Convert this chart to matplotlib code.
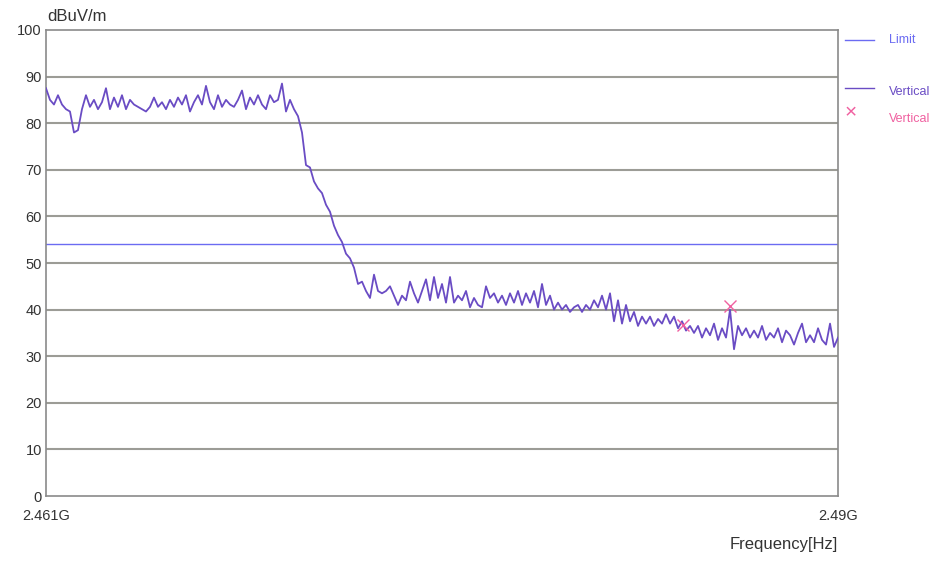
import matplotlib.pyplot as plt
import numpy as np

plt.rcParams['font.family'] = ['Liberation Sans', 'DejaVu Sans']

# sweep 2.461G .. 2.49G, evenly spaced points
f_start = 2.461
f_stop = 2.49
levels = [87.5, 85, 84, 86, 84, 83, 82.5, 78, 78.5, 83,
          86, 83.5, 85, 83, 84.5, 87.5, 83, 85.5, 83.5, 86,
          83, 85, 84, 83.5, 83, 82.5, 83.5, 85.5, 83.5, 84.5,
          83, 85, 83.5, 85.5, 84, 86, 82.5, 84.5, 86, 84,
          88, 84.5, 83, 86, 83.5, 85, 84, 83.5, 85, 87,
          83, 85.5, 84, 86, 84, 83, 86, 84.5, 85, 88.5,
          82.5, 85, 83, 81.5, 78, 71, 70.5, 67.5, 66, 65,
          62.5, 61, 58, 56, 54.5, 52, 51, 49, 45.5, 46,
          44, 42.5, 47.5, 44, 43.5, 44, 45, 43, 41, 43,
          42, 46, 43.5, 41.5, 44, 46.5, 42, 47, 42.5, 45.5,
          41.5, 47, 41.5, 43, 42, 44, 40.5, 42.5, 41, 40.5,
          45, 42.5, 43.5, 41.5, 43, 41, 43.5, 41.5, 44, 41,
          43.5, 41.5, 44, 40.5, 45.5, 41, 43, 40, 41.5, 40,
          41, 39.5, 40.5, 41, 39.5, 41, 40, 42, 40.5, 43,
          40, 43.5, 37.5, 42, 37, 41, 37.5, 39.5, 36.5, 38.5,
          37, 38.5, 36.5, 38, 37, 39, 37, 38.5, 36, 37.5,
          35.5, 36.5, 35, 36.5, 34, 36, 34.5, 37, 33.5, 36,
          34, 40, 31.5, 36.5, 34.5, 36, 34, 35.5, 34, 36.5,
          33.5, 35, 34, 36, 33, 35.5, 34.5, 32.5, 35, 37,
          33, 34.5, 33, 36, 33.5, 32.5, 37, 32, 34]
freqs = np.linspace(f_start, f_stop, len(levels))

limit = 54
peak_f = [2.48432, 2.48605]
peak_v = [36.6, 40.8]

fig = plt.figure(figsize=(9.48, 5.65), dpi=100)
ax = fig.add_axes([0.0485, 0.122, 0.8355, 0.825])

for yv in range(10, 100, 10):
    ax.axhline(yv, color='#9c9c96', lw=1.5, zorder=1)
ax.axhline(limit, color='#6b6bf2', lw=1.0, zorder=2)
ax.plot(freqs, levels, color='#6a4cc4', lw=1.3, zorder=3)
ax.plot(peak_f, peak_v, 'x', color='#f060a0', ms=9, mew=1.0, zorder=4)

ax.set_xlim(f_start, f_stop)
ax.set_ylim(0, 100)
ax.set_yticks(range(0, 101, 10))
ax.set_yticklabels([str(v) for v in range(0, 101, 10)], fontsize=10.5, color='#333333')
ax.set_xticks([f_start, f_stop])
ax.set_xticklabels(['2.461G', '2.49G'], fontsize=10.5, color='#333333')
ax.tick_params(length=0, pad=3)
ax.tick_params(axis='x', pad=9)
for s in ax.spines.values():
    s.set_color('#8a8a8a')
    s.set_linewidth(1.2)

fig.text(0.050, 0.957, 'dBuV/m', fontsize=12, color='#333333', va='bottom')
fig.text(0.884, 0.028, 'Frequency[Hz]', fontsize=12, color='#333333', ha='right')

# legend at right
fig.add_artist(plt.Line2D([0.891, 0.922], [0.929, 0.929], color='#6b6bf2', lw=1.0))
fig.text(0.938, 0.929, 'Limit', fontsize=9, color='#6b6bf2', va='center')
fig.add_artist(plt.Line2D([0.891, 0.922], [0.844, 0.844], color='#6a4cc4', lw=1.0))
fig.text(0.938, 0.837, 'Vertical', fontsize=9, color='#6a4cc4', va='center')
fig.text(0.897, 0.800, '×', fontsize=15, color='#f060a0', ha='center', va='center')
fig.text(0.938, 0.790, 'Vertical', fontsize=9, color='#f060a0', va='center')

fig.savefig('out.png', dpi=100)
